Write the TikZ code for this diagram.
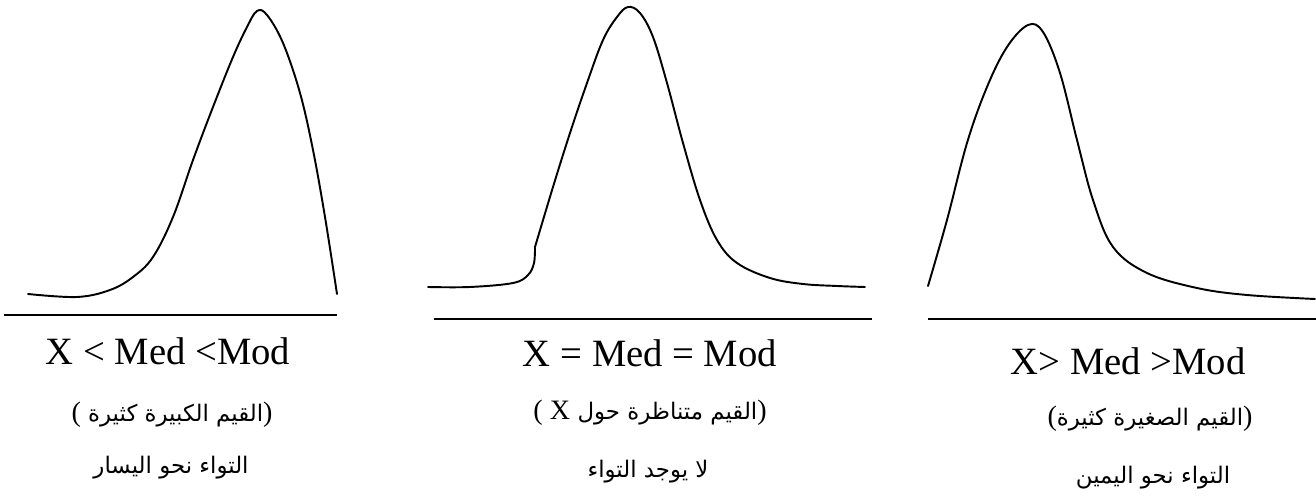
\documentclass[tikz,border=0pt]{standalone}
\usepackage{fontspec}
\setmainfont{Liberation Serif}
\newfontfamily\arabicfont[Script=Arabic]{DejaVu Sans}
\TeXXeTstate=1
\usetikzlibrary{positioning}
\newcommand{\latinpar}{\rmfamily\fontsize{16}{18}\selectfont}
\tikzset{
  curveline/.style={line width=1.1pt, line cap=round, line join=round},
  axisline/.style={line width=1.1pt},
  relnode/.style={font=\fontsize{22}{26}\selectfont, inner sep=0pt, anchor=base},
  arnode/.style={font=\arabicfont\fontsize{13}{16}\selectfont, inner sep=0pt, anchor=base}
}

\begin{document}
\begin{tikzpicture}[x=0.02cm, y=-0.02cm]
    \useasboundingbox (0,0) rectangle (1316,499);

    % left: skewed to the left
    \draw[curveline] plot[smooth, tension=0.6] coordinates {
      (28,294) (77,297) (110,290) (133,277) (153,257) (173,217) (193,160)
      (213,107) (233,57) (247,27) (257,11) (267,15) (283,43) (300,93)
      (313,150) (325,217) (337,294)};
    \draw[axisline] (4,315) -- (337,315);

    % middle: symmetric
    \draw[curveline] plot[smooth, tension=0.6] coordinates {
      (428,287) (470,287) (513,283) (528,275) (534,263) (535,247)};
    \draw[curveline] plot[smooth, tension=0.6] coordinates {
      (535,247) (553,187) (570,133) (587,83) (603,40) (617,17) (628,7)
      (640,13) (653,37) (667,83) (683,143) (700,200) (717,240) (737,263)
      (770,278) (803,284) (837,286) (865,287)};
    \draw[axisline] (434,319) -- (872,319);

    % right: skewed to the right
    \draw[curveline] plot[smooth, tension=0.6] coordinates {
      (928,286) (947,220) (967,143) (987,87) (1007,47) (1028,25) (1043,32)
      (1060,73) (1077,140) (1093,200) (1113,247) (1147,273) (1197,288)
      (1247,295) (1315,299)};
    \draw[axisline] (928,319) -- (1316,319);

    % labels
    \node[relnode] (rleft) at (168,365) {X < Med <Mod};
    \node[arnode] (aleft) at (172,422)
      {\beginR{\latinpar)}القيم الكبيرة كثيرة {\latinpar(}\endR};
    \node[arnode] (bleft) at (171,474) {\beginR التواء نحو اليسار\endR};

    \node[relnode] (rmid) at (650,367) {X = Med = Mod};
    \node[arnode] (amid) at (650,420)
      {\beginR{\latinpar)}القيم متناظرة حول {\latinpar X} {\latinpar(}\endR};
    \node[arnode] (bmid) at (648,478) {\beginR لا يوجد التواء\endR};

    \node[relnode] (rright) at (1128,375) {X> Med >Mod};
    \node[arnode] (aright) at (1150,426)
      {\beginR{\latinpar)}القيم الصغيرة كثيرة{\latinpar(}\endR};
    \node[arnode] (bright) at (1153,484) {\beginR التواء نحو اليمين\endR};
  \end{tikzpicture}
\end{document}
